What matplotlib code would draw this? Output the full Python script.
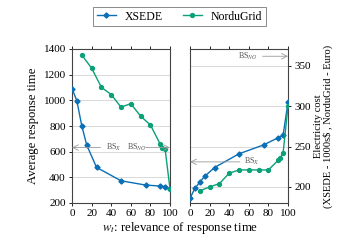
import matplotlib
matplotlib.use("Agg")
import matplotlib.pyplot as plt

# Data
x_xsede_rt = [0, 5, 10, 15, 25, 50, 75, 90, 95, 100]
y_xsede_rt = [1092, 995, 800, 652, 478, 373, 340, 332, 328, 310]
x_ng_rt = [10, 20, 30, 40, 50, 60, 70, 80, 90, 92, 95, 100]
y_ng_rt = [1353, 1251, 1102, 1045, 947, 974, 877, 808, 659, 630, 620, 310]

x_xsede_cost = [0, 5, 10, 15, 25, 50, 75, 90, 95, 100]
y_xsede_cost = [186, 198, 206, 213, 224, 241, 252, 261, 264, 305]
x_ng_cost = [10, 20, 30, 40, 50, 60, 70, 80, 90, 92, 95, 100]
y_ng_cost = [195, 200, 204, 217, 221, 221, 221, 221, 233, 236, 242, 300]

bs_rt = 632
bs_x_cost = 231
bs_ng_cost = 362

xticks = [0, 20, 40, 60, 80, 100]
left_yticks = [200, 400, 600, 800, 1000, 1200, 1400]
right_yticks = [200, 250, 300, 350]

blue = '#0a6fb5'
green = '#0aa078'
grid_c = '#d9d9d9'
arrow_c = '#999999'

plt.rcParams['font.serif'] = ['Liberation Serif', 'DejaVu Serif']
plt.rcParams['font.family'] = 'serif'
plt.rcParams['mathtext.fontset'] = 'stix'

fig = plt.figure(figsize=(3.6, 2.48), dpi=100)
ax1 = fig.add_axes([72/360, 45/248, 98/360, 154/248])
ax2 = fig.add_axes([190/360, 45/248, 98/360, 154/248])

tfs = 8
lfs = 9.2

l1, = ax1.plot(x_xsede_rt, y_xsede_rt, color=blue, marker='D', markersize=2.6, lw=1, label='XSEDE', zorder=3)
l2, = ax1.plot(x_ng_rt, y_ng_rt, color=green, marker='o', markersize=2.8, lw=1, label='NorduGrid', zorder=3)
ax1.set_xlim(0, 100)
ax1.set_ylim(200, 1400)
ax1.set_xticks(xticks)
ax1.set_yticks(left_yticks)
ax1.yaxis.grid(True, color=grid_c, lw=0.7)
ax1.set_axisbelow(True)
ax1.tick_params(axis='x', top=True, direction='out', labelsize=tfs, length=2.5, width=0.6, pad=2)
ax1.tick_params(axis='y', left=True, right=False, direction='out', labelsize=tfs, length=2.5, width=0.6, pad=2)
ax1.set_ylabel('Average response time', fontsize=lfs, labelpad=3)

ax1.annotate('', xy=(0, bs_rt), xytext=(29, bs_rt),
             arrowprops=dict(arrowstyle='->', color=arrow_c, lw=0.6, shrinkA=0, shrinkB=0))
ax1.text(35, bs_rt, r'BS$_{X}$', fontsize=5.8, color='#555555', ha='left', va='center')
ax1.text(56, bs_rt, r'BS$_{NG}$', fontsize=5.8, color='#555555', ha='left', va='center')
ax1.annotate('', xy=(100, bs_rt), xytext=(75, bs_rt),
             arrowprops=dict(arrowstyle='->', color=arrow_c, lw=0.6, shrinkA=0, shrinkB=0))

ax2.plot(x_xsede_cost, y_xsede_cost, color=blue, marker='D', markersize=2.6, lw=1, zorder=3)
ax2.plot(x_ng_cost, y_ng_cost, color=green, marker='o', markersize=2.8, lw=1, zorder=3)
ax2.set_xlim(0, 100)
ax2.set_ylim(180, 371)
ax2.set_xticks(xticks)
ax2.set_yticks(right_yticks)
ax2.yaxis.grid(True, color=grid_c, lw=0.7)
ax2.set_axisbelow(True)
ax2.yaxis.tick_right()
ax2.yaxis.set_label_position('right')
ax2.tick_params(axis='x', top=True, direction='out', labelsize=tfs, length=2.5, width=0.6, pad=2)
ax2.tick_params(axis='y', left=False, right=True, direction='out', labelsize=tfs, length=2.5, width=0.6, pad=2)
ax2.set_ylabel('Electricity cost\n(XSEDE - 1000s\\$ , NorduGrid - Euro)', fontsize=7.6, labelpad=2, linespacing=1.05)

ax2.annotate('', xy=(0, bs_x_cost), xytext=(51, bs_x_cost),
             arrowprops=dict(arrowstyle='->', color=arrow_c, lw=0.6, shrinkA=0, shrinkB=0))
ax2.text(55, bs_x_cost, r'BS$_{X}$', fontsize=5.8, color='#555555', ha='left', va='center')
ax2.text(49, bs_ng_cost, r'BS$_{NG}$', fontsize=5.8, color='#555555', ha='left', va='center')
ax2.annotate('', xy=(100, bs_ng_cost), xytext=(74, bs_ng_cost),
             arrowprops=dict(arrowstyle='->', color=arrow_c, lw=0.6, shrinkA=0, shrinkB=0))

for ax in (ax1, ax2):
    for s in ax.spines.values():
        s.set_linewidth(0.8)
        s.set_color('#444444')

fig.text(180/360, 1 - 228/248, r'$w_t$: relevance of response time', fontsize=lfs, ha='center', va='center')

leg = fig.legend(handles=[l1, l2], labels=['XSEDE', 'NorduGrid'], loc='center',
                 bbox_to_anchor=(179.5/360, 1 - 16.5/248), ncol=2, fontsize=8.5,
                 frameon=True, fancybox=False, shadow=False, edgecolor='#555555',
                 handlelength=1.6, columnspacing=1.7, borderpad=0.3, handletextpad=0.75)
leg.get_frame().set_linewidth(0.6)

fig.savefig('out.png', dpi=100)
